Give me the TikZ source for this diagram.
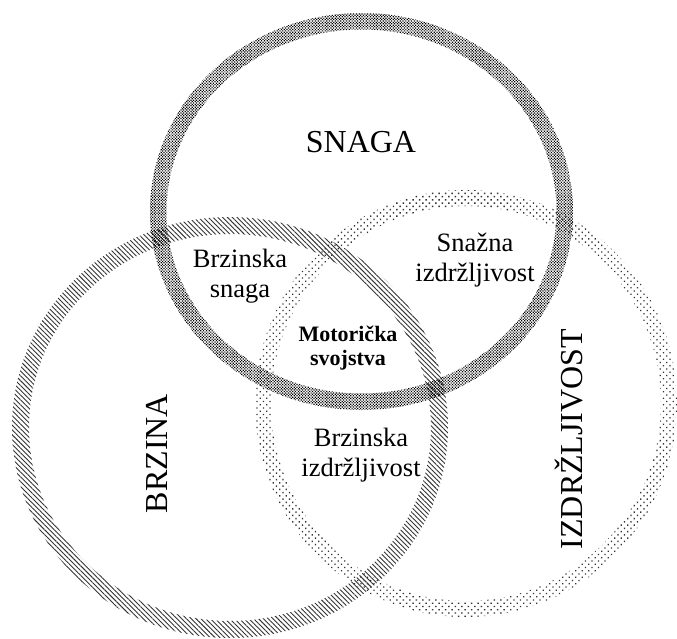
\documentclass[tikz,border=0pt]{standalone}
\usepackage{fontspec}
\setmainfont{Liberation Serif}
\usepackage{tikz}
\usetikzlibrary{patterns.meta}

\begin{document}
\begin{tikzpicture}[x=1pt, y=-1pt,
    ring/.style={even odd rule},
    snagaring/.style={ring, pattern={Dots[distance=2pt, radius=0.85pt, angle=45]}, pattern color=black},
    brzinaring/.style={ring, pattern={Lines[angle=-45, distance=3.4pt, line width=0.9pt]}, pattern color=black!80},
    izdrring/.style={ring, pattern={Dots[distance=4.6pt, radius=0.95pt, angle=45]}, pattern color=black!80},
    big/.style={font=\fontsize{32}{35}\selectfont, inner sep=0pt},
    small/.style={align=center, font=\fontsize{26.5}{30}\selectfont, inner sep=0pt},
    core/.style={align=center, font=\bfseries\fontsize{22}{24}\selectfont, inner sep=0pt}]
    \useasboundingbox (0,0) rectangle (677,639);

    % Rings
    \fill [izdrring] (466,403.5) ellipse [x radius=211pt, y radius=213.5pt]
                     (466,403.5) ellipse [x radius=195pt, y radius=197.5pt];
    \fill [brzinaring] (230,427.5) ellipse [x radius=218pt, y radius=210.5pt]
                       (230,427.5) ellipse [x radius=201pt, y radius=193.5pt];
    \fill [snagaring] (361.5,211.5) ellipse [x radius=211.5pt, y radius=198.5pt]
                      (361.5,211.5) ellipse [x radius=195pt, y radius=182pt];

    % Main labels
    \node [big] (snaga) at (361,142) {SNAGA};
    \node [big, rotate=90] (brzina) at (157,453.5) {BRZINA};
    \node [big, rotate=90] (izdr) at (568.5,439) {IZDRŽLJIVOST};

    % Overlaps
    \node [small] (bsnaga) at (240,276) {Brzinska\\snaga};
    \node [small] (sizdr) at (475,260) {Snažna\\izdržljivost};
    \node [small] (bizdr) at (361,455) {Brzinska\\izdržljivost};
    \node [core] (motor) at (348,348) {Motorička\\svojstva};
\end{tikzpicture}
\end{document}
